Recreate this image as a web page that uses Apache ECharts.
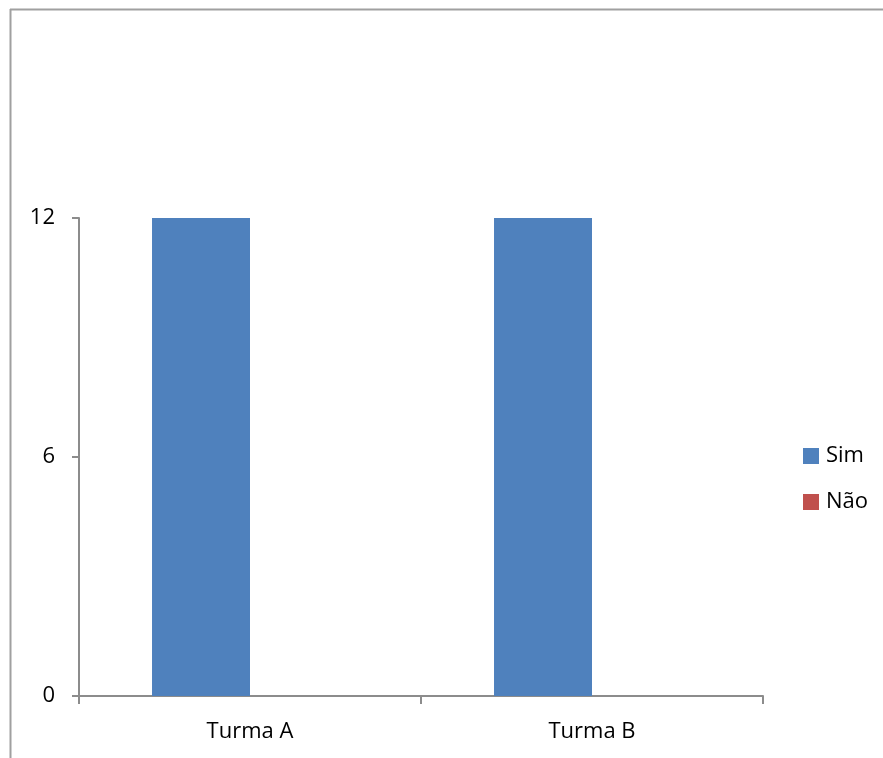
<!DOCTYPE html>
<html>
<head>
<meta charset="utf-8">
<script src="https://cdn.jsdelivr.net/npm/echarts@6/dist/echarts.min.js"></script>
<style>
html,body{margin:0;padding:0;background:#fff;}
#chart{width:883px;height:758px;}
</style>
</head>
<body>
<div id="chart"></div>
<script>
const categories = ['Turma A', 'Turma B'];
const simValues = [12, 12];
const naoValues = [0, 0];
const yTicks = [0, 6, 12];

const chart = echarts.init(document.getElementById('chart'));
const font = '"Open Sans", "Liberation Sans", sans-serif';
chart.setOption({
  animation: false,
  backgroundColor: '#fff',
  grid: { left: 79, top: 218, right: 120, bottom: 62, containLabel: false },
  legend: {
    orient: 'vertical',
    left: 803,
    top: 445,
    padding: 0,
    itemWidth: 16,
    itemHeight: 16,
    itemGap: 24,
    icon: 'rect',
    textStyle: { fontFamily: font, fontSize: 22, color: '#000', padding: [0,0,0,2] },
    data: ['Sim', 'Não']
  },
  xAxis: {
    type: 'category',
    data: categories,
    axisLine: { lineStyle: { color: '#8c8c8c', width: 2 } },
    axisTick: { show: true, length: 8, lineStyle: { color: '#8c8c8c', width: 2 } },
    axisLabel: { fontFamily: font, fontSize: 22, color: '#000', margin: 25 }
  },
  yAxis: {
    type: 'value',
    min: yTicks[0],
    max: yTicks[yTicks.length - 1],
    interval: yTicks[1] - yTicks[0],
    axisLine: { show: true, lineStyle: { color: '#8c8c8c', width: 2 } },
    axisTick: { show: true, length: 7, lineStyle: { color: '#8c8c8c', width: 2 } },
    splitLine: { show: false },
    axisLabel: { fontFamily: font, fontSize: 22, color: '#000', margin: 24 }
  },
  series: [
    { name: 'Sim', type: 'bar', data: simValues, itemStyle: { color: '#4F81BD' }, barGap: '0%', barCategoryGap: '42.7%' },
    { name: 'Não', type: 'bar', data: naoValues, itemStyle: { color: '#C0504D' } }
  ],
  graphic: [
    { type: 'line', shape: { x1: 10, y1: 9.5, x2: 883, y2: 9.5 }, style: { stroke: '#a0a0a0', lineWidth: 2 }, silent: true },
    { type: 'line', shape: { x1: 10.5, y1: 9, x2: 10.5, y2: 758 }, style: { stroke: '#a0a0a0', lineWidth: 2 }, silent: true }
  ]
});
</script>
</body>
</html>
